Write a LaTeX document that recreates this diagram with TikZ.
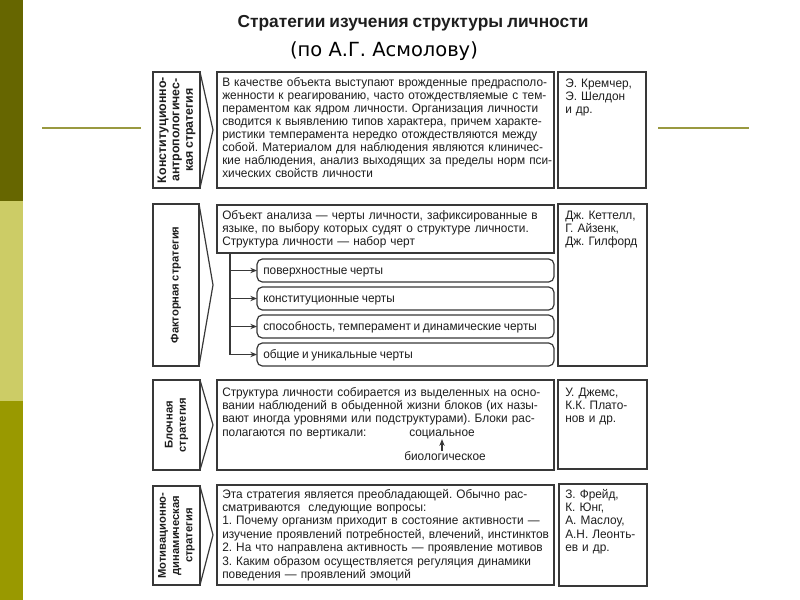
\documentclass[tikz,border=0pt]{standalone}
\usepackage{fontspec}
\setmainfont[WordSpace=0.8]{Liberation Sans}
\newfontfamily\bodyfont[WordSpace=0.8,FakeStretch=0.965]{Liberation Sans}
\newfontfamily\subfont{DejaVu Sans}
\usetikzlibrary{arrows.meta}
\definecolor{oliveA}{HTML}{666600}
\definecolor{oliveB}{HTML}{CCCC66}
\definecolor{oliveC}{HTML}{999900}
\definecolor{decol}{HTML}{999940}
\definecolor{boxline}{HTML}{383838}
\definecolor{ink}{HTML}{1E1E1E}
\frenchspacing
\newcommand\jl[1]{\hbox to\linewidth{#1}}
\newcommand\nl[1]{\hbox{#1}}
\newcommand\bx[6][]{\node[box,#1,minimum width={(#4-#2)*0.75pt},minimum height={(#5-#3)*0.75pt}] (#6) at (#2,#3) {};}
\begin{document}
\begin{tikzpicture}[x=0.75pt,y=-0.75pt,
  box/.style={draw=boxline, line width=0.9pt, inner sep=0, outer sep=0, anchor=north west},
  edge/.style={draw=boxline, line width=0.9pt},
  conn/.style={draw=boxline, line width=0.8pt, -{Stealth[length=5pt,width=4pt]}},
  txt/.style={inner sep=0, anchor=base west, text=ink, align=left, font=\bodyfont\frenchspacing\fontsize{9.2}{9.8}\selectfont},
  txtb/.style={txt, font=\bodyfont\frenchspacing\fontsize{9.2}{10.1}\selectfont},
  vlab/.style={inner sep=0, rotate=90, align=center, text=ink, font=\bfseries\fontsize{8.4}{9.9}\selectfont},
  decline/.style={draw=decol, line width=2.2pt}
]
\useasboundingbox (0,0) rectangle (800,600);
\fill[white] (0,0) rectangle (800,600);
\fill[oliveA] (0,0) rectangle (23,201);
\fill[oliveB] (0,201) rectangle (23,401);
\fill[oliveC] (0,401) rectangle (23,600);
\coordinate (dl1) at (42,128); \coordinate (dl2) at (141,128);
\coordinate (dr1) at (658,128); \coordinate (dr2) at (749,128);
\draw[decline] (dl1) -- (dl2);
\draw[decline] (dr1) -- (dr2);

\node[text=ink, font=\bfseries\fontsize{13}{15}\selectfont] (title) at (413,23) {Стратегии изучения структуры личности};
\node[text=black, font=\subfont\fontsize{14.6}{17}\selectfont] (sub) at (384,51) {(по А.Г. Асмолову)};

% Block 1
\bx{153}{72}{200}{188}{L1}
\coordinate (T1) at (213,130);
\draw[edge] (L1.north east) -- (T1) -- (L1.south east);
\node[vlab, font=\bfseries\fontsize{9.3}{10}\selectfont] (L1t) at (L1.center) {Конституционно-\\антропологичес-\\кая стратегия};
\bx{217}{72}{554}{188}{M1}
\node[txt, text width=247pt] (M1t) at (222,86.5) {%
\jl{В качестве объекта выступают врожденные предрасполо-}
\jl{женности к реагированию, часто отождествляемые с тем-}
\jl{пераментом как ядром личности. Организация личности}
\jl{сводится к выявлению типов характера, причем характе-}
\jl{ристики темперамента нередко отождествляются между}
\jl{собой. Материалом для наблюдения являются клиничес-}
\jl{кие наблюдения, анализ выходящих за пределы норм пси-}
\nl{хических свойств личности}};
\bx{558}{72}{646}{188}{A1}
\node[txt, text width=62pt] (A1t) at (565,87) {Э. Кремчер,\\Э. Шелдон\\и др.};

% Block 2
\bx{153}{204}{199}{366}{L2}
\coordinate (T2) at (213,285);
\draw[edge] (L2.north east) -- (T2) -- (L2.south east);
\node[vlab] (L2t) at (L2.center) {Факторная стратегия};
\bx{217}{205}{554}{253}{M2}
\node[txt, text width=247pt] (M2t) at (222,219) {%
\jl{Объект анализа — черты личности, зафиксированные в}
\jl{языке, по выбору которых судят о структуре личности.}
\nl{Структура личности — набор черт}};
\bx{558}{204}{647}{366}{A2}
\node[txt, text width=62pt] (A2t) at (565,219) {Дж. Кеттелл,\\Г. Айзенк,\\Дж. Гилфорд};
\bx[rounded corners=4pt]{257}{259}{554}{282}{I1}
\bx[rounded corners=4pt]{257}{287}{554}{310}{I2}
\bx[rounded corners=4pt]{257}{315}{554}{338}{I3}
\bx[rounded corners=4pt]{257}{343}{554}{366}{I4}
\node[txt] (I1t) at (263,274) {поверхностные черты};
\node[txt] (I2t) at (263,302) {конституционные черты};
\node[txt] (I3t) at (263,330) {способность, темперамент и динамические черты};
\node[txt] (I4t) at (263,358) {общие и уникальные черты};
\coordinate (V0) at (230,253);
\draw[edge, line width=0.8pt] (V0) -- (V0 |- I4.west);
\draw[conn] (V0 |- I1.west) -- (I1.west);
\draw[conn] (V0 |- I2.west) -- (I2.west);
\draw[conn] (V0 |- I3.west) -- (I3.west);
\draw[conn] (V0 |- I4.west) -- (I4.west);

% Block 3
\bx{153}{380}{200}{470}{L3}
\coordinate (T3) at (213,425);
\draw[edge] (L3.north east) -- (T3) -- (L3.south east);
\node[vlab] (L3t) at (L3.center) {Блочная\\стратегия};
\bx{217}{380}{554}{470}{M3}
\node[txtb, text width=247pt] (M3t) at (222,396) {%
\jl{Структура личности собирается из выделенных на осно-}
\jl{вании наблюдений в обыденной жизни блоков (их назы-}
\jl{вают иногда уровнями или подструктурами). Блоки рас-}
\nl{полагаются по вертикали:}};
\node[txt, anchor=base] (soc) at (442,436.5) {социальное};
\node[txt, anchor=base] (bio) at (445,460) {биологическое};
\draw[conn] (bio.north -| soc.south) -- (soc.south);
\bx{558}{380}{647}{469}{A3}
\node[txt, text width=62pt] (A3t) at (565,396) {У. Джемс,\\К.К. Плато-\\нов и др.};

% Block 4
\bx{153}{486}{200}{585}{L4}
\coordinate (T4) at (213,535);
\draw[edge] (L4.north east) -- (T4) -- (L4.south east);
\node[vlab] (L4t) at (L4.center) {Мотивационно-\\динамическая\\стратегия};
\bx{217}{485}{554}{585}{M4}
\node[txtb, text width=247pt] (M4t) at (222,498) {%
\jl{Эта стратегия является преобладающей. Обычно рас-}
\nl{сматриваются\ \ следующие вопросы:}
\jl{1. Почему организм приходит в состояние активности —}
\jl{изучение проявлений потребностей, влечений, инстинктов}
\jl{2. На что направлена активность — проявление мотивов}
\jl{3. Каким образом осуществляется регуляция динамики}
\nl{поведения — проявлений эмоций}};
\bx{559}{484}{647}{586}{A4}
\node[txtb, text width=62pt] (A4t) at (565,498) {З. Фрейд,\\К. Юнг,\\А. Маслоу,\\А.Н. Леонть-\\ев и др.};
\end{tikzpicture}
\end{document}
